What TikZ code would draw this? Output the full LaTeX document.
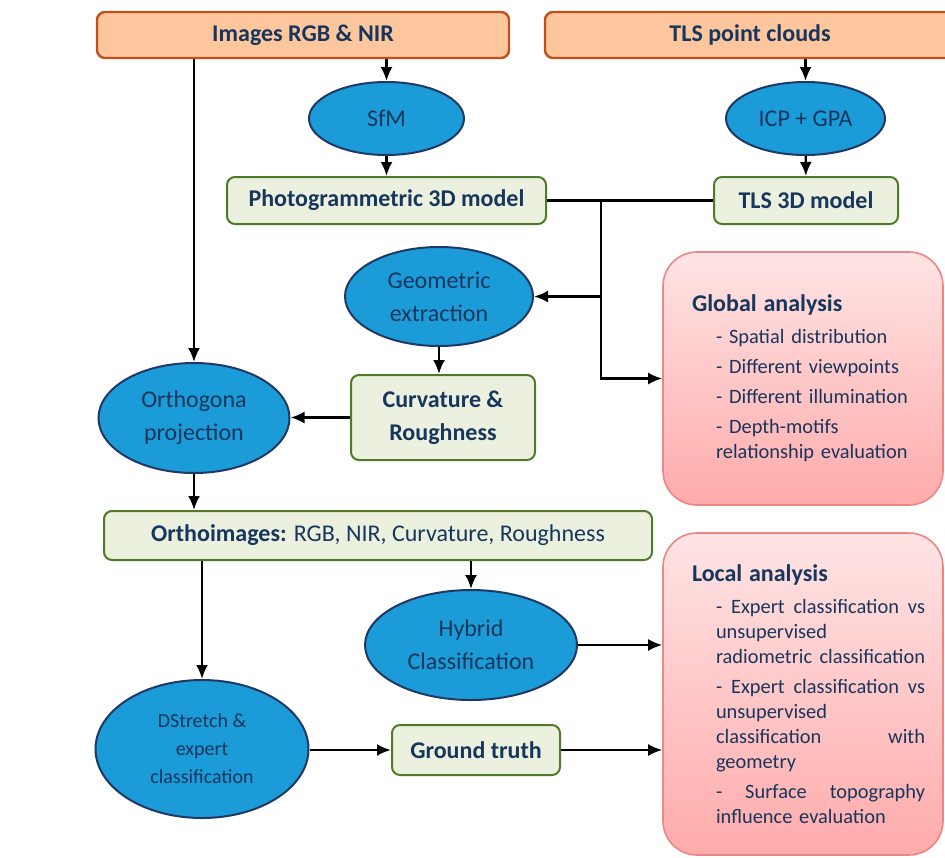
\documentclass[tikz,border=0pt]{standalone}
\usepackage{fontspec}
\setmainfont{Carlito}
\usetikzlibrary{shapes.geometric,arrows.meta}

\definecolor{navy}{HTML}{17365D}
\definecolor{orfill}{HTML}{FDC69D}
\definecolor{orline}{HTML}{C0501A}
\definecolor{grfill}{HTML}{EBF1DE}
\definecolor{grline}{HTML}{4F7A28}
\definecolor{elfill}{HTML}{1B9BD7}
\definecolor{elline}{HTML}{1F3864}
\definecolor{pktop}{HTML}{FFE4E4}
\definecolor{pkbot}{HTML}{FFABAB}
\definecolor{pkline}{HTML}{EE8585}

\newcommand{\headln}[1]{\hspace*{5.5pt}{\fontsize{12}{14}\selectfont\bfseries #1}}
\newcommand{\itemln}[1]{\hspace*{17.5pt}#1}
\newcommand{\fillln}[1]{\hspace*{17.5pt}\hbox to 104.5pt{\spaceskip=0.25em plus 20em\relax #1}}

\begin{document}
\begin{tikzpicture}[x=0.5pt,y=-0.5pt,
  srcbox/.style={draw=orline,fill=orfill,line width=1.2pt,rounded corners=4pt,
    text=navy,font=\fontsize{12}{14}\selectfont\bfseries,inner sep=0pt},
  modbox/.style={draw=grline,fill=grfill,line width=1pt,rounded corners=4pt,
    text=navy,font=\fontsize{12}{16.5}\selectfont\bfseries,inner sep=0pt,align=center},
  procell/.style={ellipse,draw=elline,fill=elfill,line width=1pt,
    text=navy,font=\fontsize{12}{16.5}\selectfont,inner sep=0pt,align=center},
  resbox/.style={draw=pkline,top color=pktop,bottom color=pkbot,line width=0.8pt,
    rounded corners=17pt,text=navy,font=\fontsize{10.2}{12.5}\selectfont,
    inner sep=0pt,text width=122pt,align=left},
  conn/.style={line width=1.2pt,-{Latex[length=7pt,width=6pt]}}]
 \useasboundingbox (0,0) rectangle (945,857);
 \node[srcbox,minimum width=206pt,minimum height=23pt] (imgs) at (303,35) {Images RGB \& NIR};
 \node[srcbox,minimum width=205pt,minimum height=23pt] (tls) at (750,35) {TLS point clouds};
 \node[procell,minimum width=77.5pt,minimum height=36.5pt] (sfm) at (386.5,118.5) {SfM};
 \node[procell,minimum width=79.5pt,minimum height=36.5pt] (icp) at (805.5,118.5) {ICP + GPA};
 \node[modbox,minimum width=159.5pt,minimum height=23.5pt] (photo) at (386.5,200.5) {Photogrammetric 3D model};
 \node[modbox,minimum width=92pt,minimum height=23.5pt] (tlsm) at (806,200.5) {TLS 3D model};
 \coordinate (j) at (601,200.5);
 \node[procell,minimum width=94pt,minimum height=49.5pt] (geo) at (439,296.5) {Geometric\\extraction};
 \node[modbox,minimum width=92pt,minimum height=42.5pt] (curv) at (443,417.5) {Curvature \&\\Roughness};
 \node[procell,minimum width=95.5pt,minimum height=55pt] (orth) at (194,418) {Orthogona\\projection};
 \node[modbox,minimum width=274pt,minimum height=24.5pt] (oimg) at (378,535.5)
   {Orthoimages: \mdseries RGB, NIR, Curvature, Roughness};
 \node[procell,minimum width=106pt,minimum height=55pt] (hyb) at (471,645) {Hybrid\\Classification};
 \node[procell,minimum width=106.5pt,minimum height=69pt,font=\fontsize{10}{14}\selectfont]
   (dstr) at (202,749) {DStretch \&\\expert\\classification};
 \node[modbox,minimum width=84pt,minimum height=25pt] (gt) at (476,750) {Ground truth};
 \node[resbox,minimum width=140pt,minimum height=126.5pt] (glob) at (803,378.5) {%
   \headln{Global analysis}\\[3.5pt]
   \itemln{- Spatial distribution}\\[2.5pt]
   \itemln{- Different viewpoints}\\[2.5pt]
   \itemln{- Different illumination}\\[2.5pt]
   \itemln{- Depth-motifs}\\
   \itemln{relationship evaluation}};
 \node[resbox,minimum width=140pt,minimum height=161pt] (loc) at (803,694) {%
   \headln{Local analysis}\\[3.5pt]
   \fillln{- Expert classification vs}\\
   \itemln{unsupervised}\\
   \fillln{radiometric classification}\\[2.5pt]
   \fillln{- Expert classification vs}\\
   \itemln{unsupervised}\\
   \fillln{classification with}\\
   \itemln{geometry}\\[2.5pt]
   \fillln{- Surface topography}\\
   \itemln{influence evaluation}};
 %
 \draw[conn] (imgs.south -| sfm.north) -- (sfm.north);
 \draw[conn] (tls.south -| icp.north) -- (icp.north);
 \draw[conn] (sfm) -- (photo);
 \draw[conn] (icp) -- (tlsm);
 \draw[line width=1.2pt] (photo.east) -- (tlsm.west);
 \draw[conn] (j) |- (geo.east);
 \draw[conn] (j) |- (glob.west);
 \draw[conn] (imgs.south -| orth.north) -- (orth.north);
 \draw[conn] (geo) -- (geo.south |- curv.north);
 \draw[conn] (curv.west) -- (curv.west -| orth.east);
 \draw[conn] (orth.south) -- (orth.south |- oimg.north);
 \draw[conn] (oimg.south -| hyb.north) -- (hyb.north);
 \draw[conn] (oimg.south -| dstr.north) -- (dstr.north);
 \draw[conn] (hyb.east) -- (hyb.east -| loc.west);
 \draw[conn] (dstr.east |- gt.west) -- (gt.west);
 \draw[conn] (gt.east) -- (gt.east -| loc.west);
\end{tikzpicture}
\end{document}
